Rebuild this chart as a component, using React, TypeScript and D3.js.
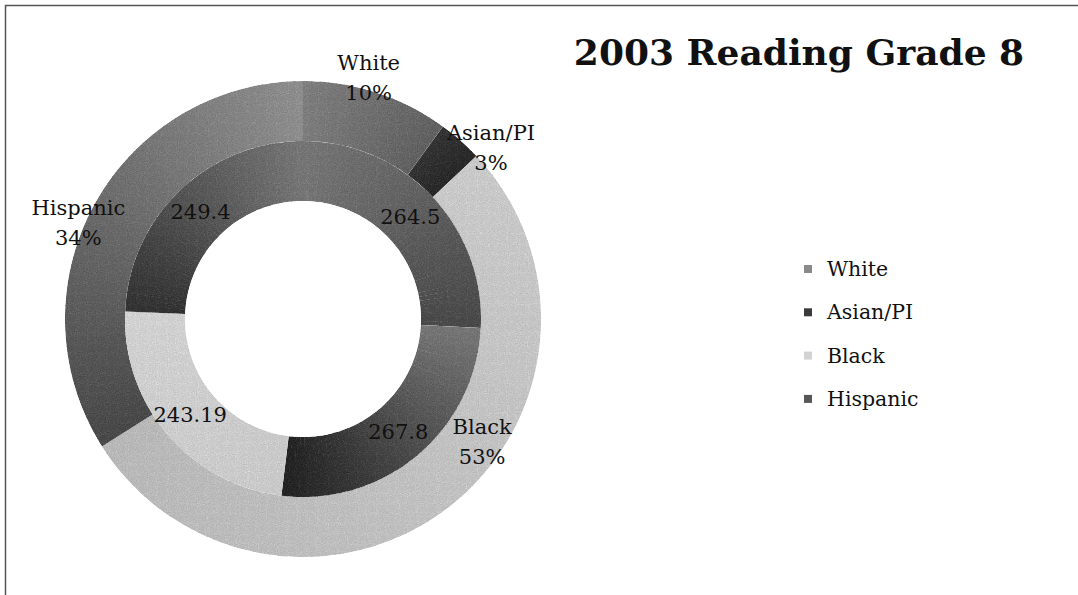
import React from 'react';
import * as d3 from 'd3';

// outer ring: share of students, inner ring: average scale score
const categories = ['White', 'Asian/PI', 'Black', 'Hispanic'];
const sharePct = [10, 3, 53, 34];
const scores = [264.5, 267.8, 243.19, 249.4];
const scoreLabels = ['264.5', '267.8', '243.19', '249.4'];

const W = 1078;
const H = 595;
const cx = 303;
const cy = 319;
const rOuter = 238;
const rMid = 178;
const rHole = 118;

// grey shading per slice, from start angle to end angle
const outerShade = [
  ['#929292', '#767676'],
  ['#484848', '#3e3e3e'],
  ['#dedede', '#cdcdcd'],
  ['#5e5e5e', '#a2a2a2'],
];
const innerShade = [
  ['#8a8a8a', '#5e5e5e'],
  ['#8a8a8a', '#383838'],
  ['#dedede', '#e6e6e6'],
  ['#484848', '#8a8a8a'],
];
const legendFill = ['#8a8a8a', '#3a3a3a', '#d2d2d2', '#575757'];

// hand placed data labels of the outer ring (excel drags them around)
const outerNudge = [
  [-10, -8],
  [26, 13],
  [29, -71],
  [-10, 22],
];

function App() {
  const pie = d3.pie<number>().sort(null).value((d) => d);
  const outer = pie(sharePct);
  const inner = pie(scores);

  const slices = (arcs: any[], r0: number, r1: number, shades: string[][], key: string) => {
    const arc = d3.arc<any>().innerRadius(r0).outerRadius(r1);
    const out: any[] = [];
    arcs.forEach((a, i) => {
      const n = Math.max(2, Math.ceil(((a.endAngle - a.startAngle) * 180) / Math.PI / 2));
      const col = d3.interpolateRgb(shades[i][0], shades[i][1]);
      for (let k = 0; k < n; k++) {
        const s = a.startAngle + ((a.endAngle - a.startAngle) * k) / n;
        const e = a.startAngle + ((a.endAngle - a.startAngle) * (k + 1)) / n;
        out.push(
          <path
            key={key + i + '-' + k}
            d={arc({ startAngle: s, endAngle: Math.min(a.endAngle, e + 0.004) }) as string}
            fill={col(k / (n - 1))}
          />
        );
      }
    });
    return out;
  };

  const labelArc = d3.arc<any>().innerRadius(245).outerRadius(245);
  const innerLabelArc = d3.arc<any>().innerRadius(rHole).outerRadius(rMid);

  return (
    <svg width={W} height={H} style={{ position: 'absolute', left: 0, top: 0, background: '#fff' }}>
      <defs>
        <filter id="grain" x="0" y="0" width="100%" height="100%" colorInterpolationFilters="sRGB">
          <feTurbulence type="fractalNoise" baseFrequency="0.9" numOctaves="1" seed="3" result="noise" />
          <feColorMatrix in="noise" type="saturate" values="0" result="gnoise" />
          <feComposite in="SourceGraphic" in2="gnoise" operator="arithmetic" k1="0" k2="1" k3="0.4" k4="-0.2" result="mix" />
          <feComposite in="mix" in2="SourceGraphic" operator="in" />
        </filter>
      </defs>
      <rect width={W} height={H} fill="#fff" />
      <path d={`M5.5,${H} V5.5 H${W}`} fill="none" stroke="#555" strokeWidth={1.5} />

      <g transform={`translate(${cx},${cy})`} filter="url(#grain)">
        {slices(outer, rMid, rOuter, outerShade, 'o')}
        {slices(inner, rHole, rMid, innerShade, 'i')}
      </g>

      <g transform={`translate(${cx},${cy})`} fontFamily="'DejaVu Serif', serif" fontSize={21} fill="#111" textAnchor="middle">
        {outer.map((a, i) => {
          const [x, y] = labelArc.centroid(a);
          const nx = x + outerNudge[i][0];
          const ny = y + outerNudge[i][1];
          return (
            <text key={'ol' + i} x={nx} y={ny - 15} dominantBaseline="central">
              <tspan x={nx}>{categories[i]}</tspan>
              <tspan x={nx} dy={30}>{sharePct[i] + '%'}</tspan>
            </text>
          );
        })}
        {inner.map((a, i) => {
          const [x, y] = innerLabelArc.centroid(a);
          return (
            <text key={'il' + i} x={x} y={y} dominantBaseline="central">
              {scoreLabels[i]}
            </text>
          );
        })}
      </g>

      <text x={799} y={65} textAnchor="middle" fontFamily="'DejaVu Serif', serif" fontWeight="bold" fontSize={36} fill="#111">
        2003 Reading Grade 8
      </text>

      <g fontFamily="'DejaVu Serif', serif" fontSize={20.5} fill="#111">
        {categories.map((c, i) => {
          const y = 269 + i * 43.3;
          return (
            <g key={'lg' + i}>
              <rect x={804} y={y - 4} width={8} height={8} fill={legendFill[i]} />
              <text x={827} y={y} dominantBaseline="central">
                {c}
              </text>
            </g>
          );
        })}
      </g>
    </svg>
  );
}

export default App;
